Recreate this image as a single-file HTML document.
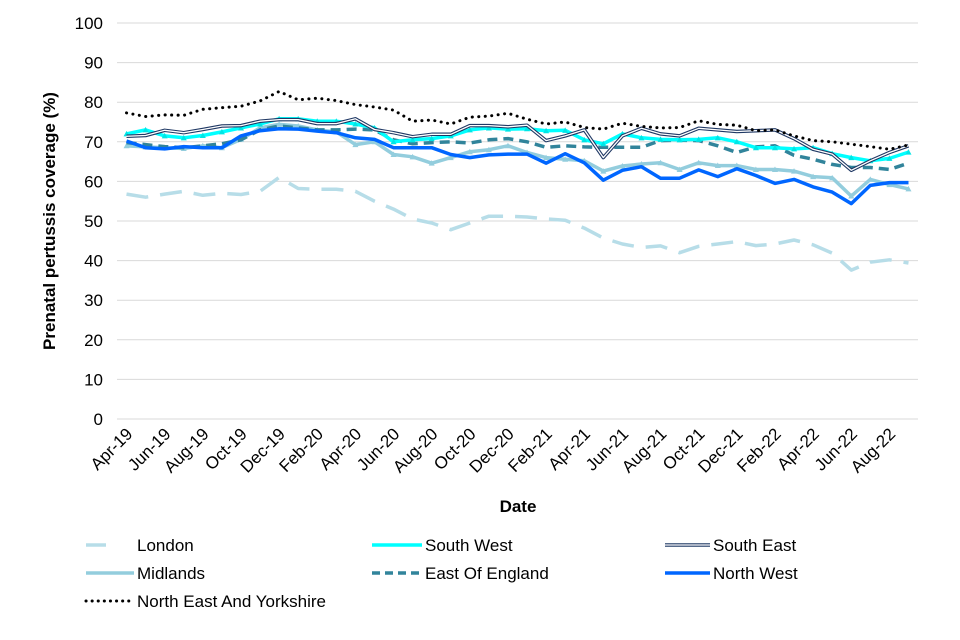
<!DOCTYPE html>
<html><head><meta charset="utf-8"><style>
body{margin:0;background:#fff;font-family:"Liberation Sans",Arial,sans-serif;}
svg{display:block}
</style></head><body>
<svg id="chart" width="960" height="640" xmlns="http://www.w3.org/2000/svg"></svg>
<script>
const categories=["Apr-19","May-19","Jun-19","Jul-19","Aug-19","Sep-19","Oct-19","Nov-19","Dec-19","Jan-20","Feb-20","Mar-20","Apr-20","May-20","Jun-20","Jul-20","Aug-20","Sep-20","Oct-20","Nov-20","Dec-20","Jan-21","Feb-21","Mar-21","Apr-21","May-21","Jun-21","Jul-21","Aug-21","Sep-21","Oct-21","Nov-21","Dec-21","Jan-22","Feb-22","Mar-22","Apr-22","May-22","Jun-22","Jul-22","Aug-22","Sep-22"];
const yTicks=[0,10,20,30,40,50,60,70,80,90,100];
const london=[56.8,56,56.8,57.5,56.5,57,56.7,57.5,61,58.2,58,58,57.5,55,53,50.5,49.5,47.8,49.5,51.2,51.2,51,50.5,50.2,48.2,45.7,44.2,43.3,43.7,42,43.6,44.2,44.8,43.8,44.2,45.2,44,41.9,37.6,39.6,40.2,39.4];
const southWest=[72,73,71.5,71,71.6,72.5,73.5,74.5,75.8,75.8,75.2,75.2,74.5,73.5,70,70.5,70.8,71.5,73,73.5,73.2,73.3,72.8,72.9,70.5,69.5,72,71,70.6,70.5,70.6,71,70,68.5,68.5,68.2,68.5,67,66,65.2,65.8,67.4];
const southEast=[71.4,71.6,72.9,72.3,73.1,74,74.1,75.2,75.6,75.6,74.6,74.6,75.8,73.1,72.3,71.3,71.9,71.9,74.1,74.1,73.8,74.2,70.3,71.5,73,66,71.5,73.4,72,71.5,73.4,73,72.6,72.8,73,70.8,68.1,66.9,62.8,65.2,67.3,69];
const midlands=[69,68.7,68.5,68.3,69,68.5,70.6,73.5,74.4,74,73,72.5,69.3,70,66.8,66.2,64.6,66,67.5,68,69,67.3,66,65.6,65.2,62.6,63.9,64.4,64.7,63,64.7,64,64,63,63,62.6,61.2,60.9,56.3,60.5,59.2,58.1];
const eastOfEngland=[69.8,69.3,68.8,68.5,69,69.5,70.5,73,74,73.5,73,73,73.2,73,70.5,69.5,69.8,70,69.7,70.5,70.8,70,68.6,69,68.7,68.6,68.6,68.6,70.3,70.4,70.3,69,67.3,68.7,69,66.6,65.6,64.3,63.5,63.5,63,64.6];
const northWest=[70.2,68.5,68.2,68.8,68.5,68.5,71.5,72.8,73.3,73.2,72.7,72.3,71,70.6,68.5,68.5,68.5,66.8,66,66.7,66.9,66.9,64.6,67,64.7,60.3,62.8,63.7,60.8,60.8,62.9,61.2,63.2,61.5,59.5,60.5,58.6,57.3,54.4,59,59.7,59.7];
const northEastYorks=[77.3,76.4,76.8,76.7,78.2,78.6,79,80.3,82.7,80.6,81,80.4,79.4,78.8,78,75.2,75.5,74.5,76.2,76.5,77.2,75.7,74.5,75,73.6,73.2,74.7,73.9,73.5,73.6,75.3,74.4,74.2,72.8,73,71.5,70.3,70,69.4,68.8,68.1,69.2];

const svg=document.getElementById('chart');
const NS='http://www.w3.org/2000/svg';
const L=117,R=918,T=23,B=419;
const step=(R-L)/categories.length;
function x(i){return L+step*(i+0.5);}
function y(v){return B-(v/100)*(B-T);}
function el(tag,attrs,parent){const e=document.createElementNS(NS,tag);for(const k in attrs)e.setAttribute(k,attrs[k]);(parent||svg).appendChild(e);return e;}

const grid=el('g',{});


yTicks.forEach(t=>{
  const g=el('line',{x1:L,x2:R,y1:y(t),y2:y(t),stroke:'#d9d9d9','stroke-width':1},grid);
  
  
  const tx=el('text',{x:103,y:y(t)+6,'text-anchor':'end','font-size':17,fill:'#000'});
  tx.textContent=t;
  
  
});
categories.forEach((c,i)=>{
  if(i%2)return;
  const px=x(i)+7,py=B+16;
  const tx=el('text',{x:px,y:py,'text-anchor':'end','font-size':17,fill:'#000',transform:`rotate(-45 ${px} ${py})`});
  tx.textContent=c;
  
  
});
const yt=el('text',{x:0,y:0,'font-size':17,'font-weight':'bold','text-anchor':'middle',transform:`translate(55 221) rotate(-90)`});
yt.textContent='Prenatal pertussis coverage (%)';


const xt=el('text',{x:518,y:512,'font-size':17,'font-weight':'bold','text-anchor':'middle'});
xt.textContent='Date';



function pts(arr){return arr.map((v,i)=>x(i).toFixed(1)+','+y(v).toFixed(1)).join(' ');}
function series(name,arr,styles){
  const g=el('g',{});
  
  
  styles.forEach(s=>{el('polyline',Object.assign({points:pts(arr),fill:'none','stroke-linejoin':'round'},s),g);});
  return g;
}
function markers(name,arr,color){
  const g=el('g',{});
  
  
  arr.forEach((v,i)=>{el('path',{d:`M${x(i)-3},${y(v)+2.5}L${x(i)},${y(v)-3}L${x(i)+3},${y(v)+2.5}Z`,fill:color},g);});
}
series('london',london,[{stroke:'#b7dde8','stroke-width':3.5,'stroke-dasharray':'22 12'}]);
series('midlands',midlands,[{stroke:'#93cddd','stroke-width':3.5}]);
markers('midlands',midlands,'#93cddd');
series('east-of-england',eastOfEngland,[{stroke:'#31849b','stroke-width':3.5,'stroke-dasharray':'10 6'}]);
series('south-west',southWest,[{stroke:'#00ffff','stroke-width':3.5}]);
markers('south-west',southWest,'#00e5e5');
series('south-east',southEast,[{stroke:'#1f3864','stroke-width':3.5},{stroke:'#fff','stroke-width':1.3}]);
series('north-west',northWest,[{stroke:'#0066ff','stroke-width':3.5}]);
series('north-east-yorkshire',northEastYorks,[{stroke:'#000','stroke-width':3,'stroke-dasharray':'0.1 6.4','stroke-linecap':'round'}]);

const legend=[
 ['London',86,545,[{stroke:'#b7dde8','stroke-width':3.5,'stroke-dasharray':'20 40'}],137],
 ['South West',372,545,[{stroke:'#00ffff','stroke-width':3.5}],425],
 ['South East',665,545,[{stroke:'#1f3864','stroke-width':3.5},{stroke:'#fff','stroke-width':1.3}],713],
 ['Midlands',86,573,[{stroke:'#93cddd','stroke-width':3.5}],137],
 ['East Of England',372,573,[{stroke:'#31849b','stroke-width':3.5,'stroke-dasharray':'8 5'}],425],
 ['North West',665,573,[{stroke:'#0066ff','stroke-width':3.5}],713],
 ['North East And Yorkshire',86,601,[{stroke:'#000','stroke-width':3,'stroke-dasharray':'0.1 6','stroke-linecap':'round'}],137]
];
const lg=el('g',{});


legend.forEach(([n,lx,ly,st,tx])=>{
  const g=el('g',{},lg);
  
  
  st.forEach(s=>el('line',Object.assign({x1:lx,x2:tx-3,y1:ly,y2:ly},s),g));
  const t=el('text',{x:tx,y:ly+6,'font-size':17,fill:'#000'},g);
  t.textContent=n;
});
</script>
</body></html>
